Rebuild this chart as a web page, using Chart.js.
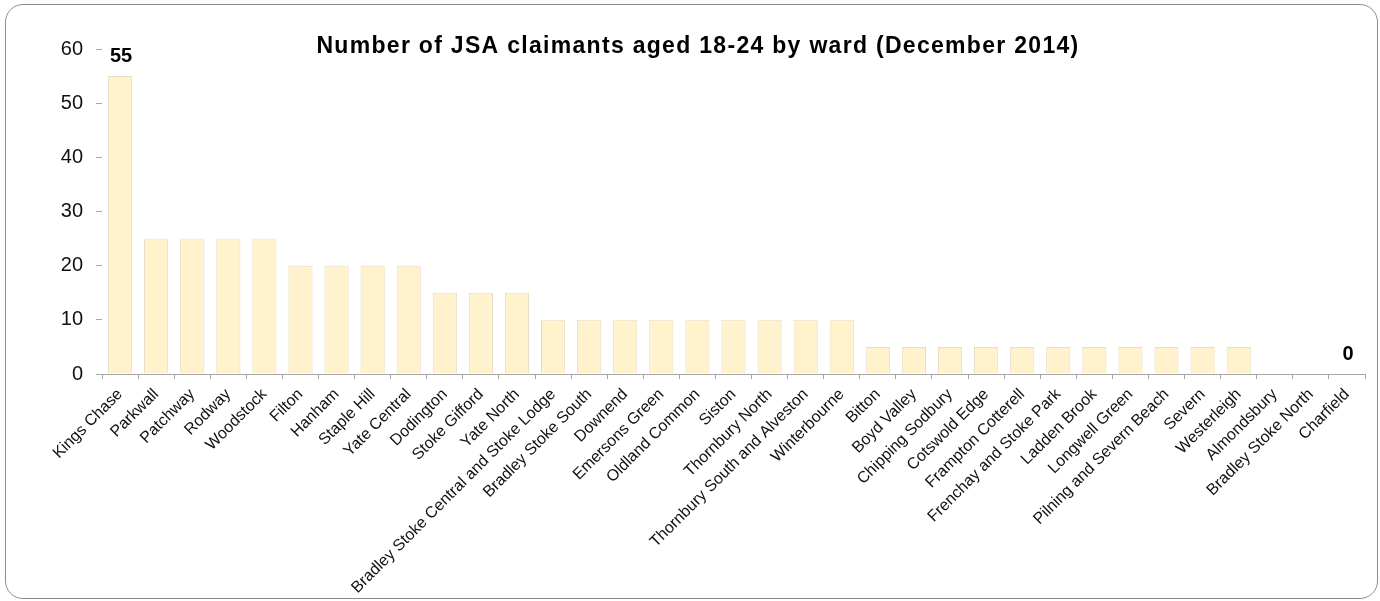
<!DOCTYPE html>
<html>
<head>
<meta charset="utf-8">
<script src="https://cdn.jsdelivr.net/npm/chart.js@4/dist/chart.umd.min.js"></script>
<style>
  html, body { margin: 0; padding: 0; background: #fff; }
  .wrap { position: relative; width: 1380px; height: 601px; }
  .frame {
    position: absolute; left: 5px; top: 4px; width: 1371px; height: 593px;
    border: 1px solid #8c8c8c; border-radius: 18px; pointer-events: none;
  }
  canvas { position: absolute; left: 0; top: 0; }
</style>
</head>
<body>
<div class="wrap">
  <canvas id="chart" width="1380" height="601"></canvas>
  <div class="frame"></div>
</div>
<script>
const TITLE = 'Number of JSA claimants aged 18-24 by ward (December 2014)';

const wards = [
  'Kings Chase', 'Parkwall', 'Patchway', 'Rodway', 'Woodstock', 'Filton', 'Hanham',
  'Staple Hill', 'Yate Central', 'Dodington', 'Stoke Gifford', 'Yate North',
  'Bradley Stoke Central and Stoke Lodge', 'Bradley Stoke South', 'Downend',
  'Emersons Green', 'Oldland Common', 'Siston', 'Thornbury North',
  'Thornbury South and Alveston', 'Winterbourne', 'Bitton', 'Boyd Valley',
  'Chipping Sodbury', 'Cotswold Edge', 'Frampton Cotterell', 'Frenchay and Stoke Park',
  'Ladden Brook', 'Longwell Green', 'Pilning and Severn Beach', 'Severn', 'Westerleigh',
  'Almondsbury', 'Bradley Stoke North', 'Charfield'
];

const claimants = [
  55, 25, 25, 25, 25, 20, 20,
  20, 20, 15, 15, 15,
  10, 10, 10,
  10, 10, 10, 10,
  10, 10, 5, 5,
  5, 5, 5, 5,
  5, 5, 5, 5, 5,
  0, 0, 0
];

// only the highest and the last ward get a value label
const labeledIdx = [0, 34];

const yTicks = [0, 10, 20, 30, 40, 50, 60];

const FONT = 'Arial, "Liberation Sans", sans-serif';

const titlePlugin = {
  id: 'topTitle',
  afterDraw(chart) {
    const ctx = chart.ctx;
    ctx.save();
    ctx.font = 'bold 23px ' + FONT;
    ctx.letterSpacing = '1.3px';
    ctx.fillStyle = '#000';
    ctx.textAlign = 'center';
    ctx.textBaseline = 'middle';
    ctx.fillText(TITLE, chart.width / 2 + 8, 47);
    ctx.restore();
  }
};

const valueLabels = {
  id: 'valueLabels',
  afterDatasetsDraw(chart) {
    const ctx = chart.ctx;
    const meta = chart.getDatasetMeta(0);
    ctx.save();
    ctx.font = 'bold 20px ' + FONT;
    ctx.fillStyle = '#000';
    ctx.textAlign = 'center';
    ctx.textBaseline = 'bottom';
    labeledIdx.forEach(i => {
      const bar = meta.data[i];
      ctx.fillText(String(claimants[i]), bar.x + 1, bar.y - 10);
    });
    ctx.restore();
  }
};

new Chart(document.getElementById('chart'), {
  type: 'bar',
  data: {
    labels: wards,
    datasets: [{
      data: claimants,
      backgroundColor: '#FFF2CC',
      borderColor: '#E6DDC4',
      borderWidth: 1,
      categoryPercentage: 1,
      barPercentage: 0.67
    }]
  },
  options: {
    responsive: false,
    animation: false,
    layout: { padding: { top: 49, right: 15, bottom: 0, left: 0 } },
    plugins: {
      legend: { display: false },
      tooltip: { enabled: false }
    },
    scales: {
      x: {
        afterFit(scale) { scale.height = 227; },
        grid: {
          offset: true,
          drawOnChartArea: false,
          tickLength: 5,
          color: '#A6A6A6'
        },
        border: { color: '#A6A6A6' },
        ticks: {
          autoSkip: false,
          minRotation: 45,
          maxRotation: 45,
          padding: 6,
          color: '#111',
          font: { family: FONT, size: 16 }
        }
      },
      y: {
        min: 0,
        max: 60,
        afterFit(scale) { scale.width = 102; },
        afterBuildTicks(scale) { scale.ticks = yTicks.map(v => ({ value: v })); },
        grid: {
          drawOnChartArea: false,
          tickLength: 6,
          color: '#A6A6A6'
        },
        border: { display: false },
        ticks: {
          padding: 13,
          color: '#111',
          font: { family: FONT, size: 20 }
        }
      }
    }
  },
  plugins: [titlePlugin, valueLabels]
});
</script>
</body>
</html>
